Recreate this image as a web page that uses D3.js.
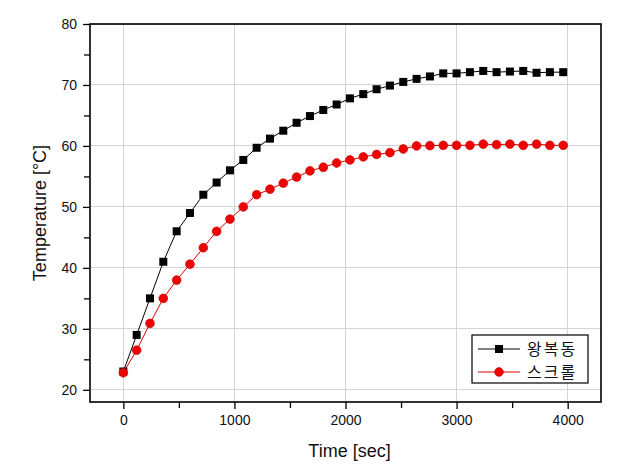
<!DOCTYPE html>
<html>
<head>
<meta charset="utf-8">
<script src="https://cdn.jsdelivr.net/npm/d3@7"></script>
<style>
  html, body { margin: 0; padding: 0; background: #fff; }
  svg { display: block; }
</style>
</head>
<body>
<svg id="chart" width="620" height="472"></svg>
<script>
// ---- Data ----
const times = [0,120,240,360,480,600,720,840,960,1080,1200,1320,1440,1560,1680,1800,1920,2040,2160,2280,2400,2520,2640,2760,2880,3000,3120,3240,3360,3480,3600,3720,3840,3960];
const reciprocating = [23,29,35,41,46,49,52,54,56,57.7,59.7,61.2,62.5,63.8,64.9,65.9,66.8,67.8,68.5,69.3,69.9,70.5,71,71.4,71.9,71.9,72.1,72.3,72.1,72.2,72.3,72.0,72.1,72.1];
const scroll = [22.8,26.5,30.9,35,38,40.6,43.3,46,48,50,52,52.9,53.9,54.9,55.9,56.5,57.2,57.7,58.2,58.6,58.9,59.5,60,60.05,60.1,60.1,60.1,60.3,60.2,60.3,60.1,60.3,60.1,60.1];
const seriesNames = ["왕복동", "스크롤"];
const xTicks = [0,1000,2000,3000,4000];
const xMinorTicks = [500,1500,2500,3500];
const yTicks = [20,30,40,50,60,70,80];
const yMinorTicks = [25,35,45,55,65,75];
const xLabel = "Time [sec]";
const yLabel = "Temperature [°C]";

// ---- Layout ----
const svg = d3.select("#chart");
const L = 90, R = 601, T = 24, B = 402;
const x = d3.scaleLinear().domain([-300, 4300]).range([L, R]);
const y = d3.scaleLinear().domain([18, 80]).range([B, T]);
const font = "'Liberation Sans', Arial, sans-serif";

// grid
const grid = svg.append("g");
grid.selectAll("line.gx").data(xTicks).enter().append("line")
  .attr("x1", d => x(d)).attr("x2", d => x(d)).attr("y1", T).attr("y2", B)
  .attr("stroke", "#d4d4d4").attr("stroke-width", 1).attr("shape-rendering", "crispEdges");
grid.selectAll("line.gy").data(yTicks).enter().append("line")
  .attr("y1", d => y(d)).attr("y2", d => y(d)).attr("x1", L).attr("x2", R)
  .attr("stroke", "#d4d4d4").attr("stroke-width", 1).attr("shape-rendering", "crispEdges");

// axes
const xAxis = d3.axisBottom(x).tickValues(xTicks).tickSize(7).tickPadding(6).tickFormat(d3.format("d"));
const xAxisMinor = d3.axisBottom(x).tickValues(xMinorTicks).tickSize(6).tickFormat("");
const yAxis = d3.axisLeft(y).tickValues(yTicks).tickSize(7).tickPadding(6).tickFormat(d3.format("d"));
const yAxisMinor = d3.axisLeft(y).tickValues(yMinorTicks).tickSize(6).tickFormat("");

function styleAxis(g) {
  g.select(".domain").remove();
  g.selectAll(".tick line").attr("stroke", "#000").attr("stroke-width", 1.3);
  g.selectAll(".tick text").attr("fill", "#111").style("font-family", font).style("font-size", "14px");
}
svg.append("g").attr("transform", `translate(0,${B})`).call(xAxis).call(styleAxis);
svg.append("g").attr("transform", `translate(0,${B})`).call(xAxisMinor).call(styleAxis);
svg.append("g").attr("transform", `translate(${L},0)`).call(yAxis).call(styleAxis);
svg.append("g").attr("transform", `translate(${L},0)`).call(yAxisMinor).call(styleAxis);

// frame
svg.append("rect").attr("x", L).attr("y", T).attr("width", R - L).attr("height", B - T)
  .attr("fill", "none").attr("stroke", "#000").attr("stroke-width", 1.6);

// axis labels
svg.append("text").attr("x", (L + R) / 2 + 4).attr("y", 457).attr("text-anchor", "middle")
  .style("font-family", font).style("font-size", "18px").attr("fill", "#111").text(xLabel);
svg.append("text").attr("transform", `translate(46,${(T + B) / 2}) rotate(-90)`).attr("text-anchor", "middle")
  .style("font-family", font).style("font-size", "18px").attr("fill", "#111").text(yLabel);

// series
const line = d3.line().x(d => x(d[0])).y(d => y(d[1]));
const dataA = times.map((t, i) => [t, reciprocating[i]]);
const dataB = times.map((t, i) => [t, scroll[i]]);

svg.append("path").datum(dataA).attr("d", line).attr("fill", "none").attr("stroke", "#000").attr("stroke-width", 1);
svg.append("path").datum(dataB).attr("d", line).attr("fill", "none").attr("stroke", "#e00000").attr("stroke-width", 1);

const sq = 8;
svg.append("g").selectAll("rect").data(dataA).enter().append("rect")
  .attr("x", d => x(d[0]) - sq / 2).attr("y", d => y(d[1]) - sq / 2)
  .attr("width", sq).attr("height", sq).attr("fill", "#000");
svg.append("g").selectAll("circle").data(dataB).enter().append("circle")
  .attr("cx", d => x(d[0])).attr("cy", d => y(d[1])).attr("r", 4.4)
  .attr("fill", "#f00000").attr("stroke", "#c00000").attr("stroke-width", 0.6);

// legend
const lg = svg.append("g");
lg.append("rect").attr("x", 472).attr("y", 335).attr("width", 116).attr("height", 48)
  .attr("fill", "#fff").attr("stroke", "#000").attr("stroke-width", 1.2);
const rows = [349, 372];
const colors = ["#000", "#e00000"];
rows.forEach((ry, i) => {
  lg.append("line").attr("x1", 478).attr("x2", 520).attr("y1", ry).attr("y2", ry)
    .attr("stroke", colors[i]).attr("stroke-width", 1);
  if (i === 0) {
    lg.append("rect").attr("x", 499 - sq / 2).attr("y", ry - sq / 2).attr("width", sq).attr("height", sq).attr("fill", "#000");
  } else {
    lg.append("circle").attr("cx", 499).attr("cy", ry).attr("r", 4.4).attr("fill", "#f00000").attr("stroke", "#c00000").attr("stroke-width", 0.6);
  }
  lg.append("text").attr("x", 527).attr("y", ry + 6)
    .style("font-family", "'Noto Sans CJK KR', sans-serif").style("font-size", "16px")
    .style("letter-spacing", "2px").attr("fill", "#111").text(seriesNames[i]);
});
</script>
</body>
</html>
